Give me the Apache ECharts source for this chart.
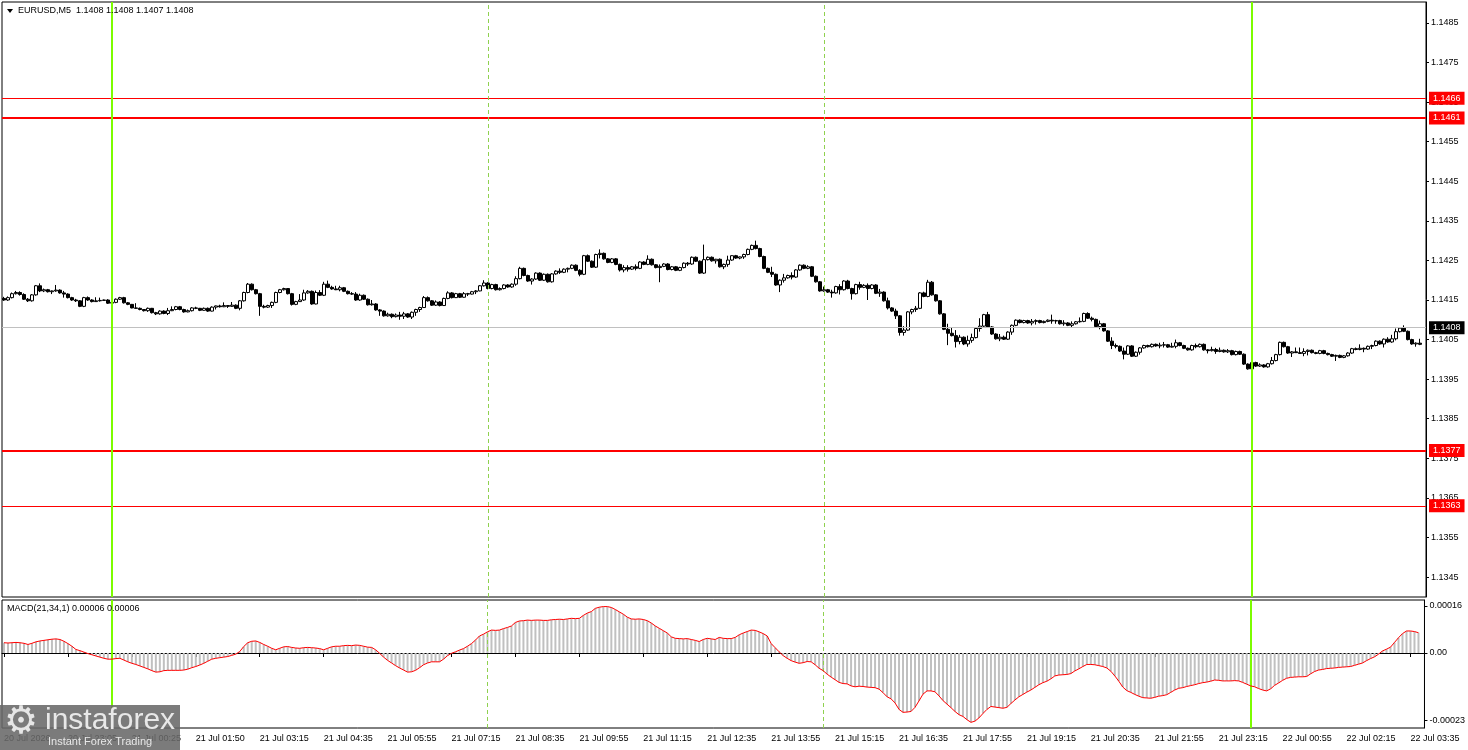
<!DOCTYPE html>
<html><head><meta charset="utf-8">
<script src="https://cdn.jsdelivr.net/npm/echarts@6/dist/echarts.min.js"></script>
<style>html,body{margin:0;padding:0;background:#fff}#c{width:1468px;height:750px}</style>
</head><body><div id="c"></div>
<script>
const chartTitle = 'EURUSD,M5  1.1408 1.1408 1.1407 1.1408';
const macdTitle = 'MACD(21,34,1) 0.00006 0.00006';
const timeLabels = ['20 Jul 2026','20 Jul 23:05','21 Jul 00:25','21 Jul 01:50','21 Jul 03:15','21 Jul 04:35','21 Jul 05:55','21 Jul 07:15','21 Jul 08:35','21 Jul 09:55','21 Jul 11:15','21 Jul 12:35','21 Jul 13:55','21 Jul 15:15','21 Jul 16:35','21 Jul 17:55','21 Jul 19:15','21 Jul 20:35','21 Jul 21:55','21 Jul 23:15','22 Jul 00:55','22 Jul 02:15','22 Jul 03:35'];
const priceTicks = [1.1345,1.1355,1.1365,1.1375,1.1385,1.1395,1.1405,1.1415,1.1425,1.1435,1.1445,1.1455,1.1465,1.1475,1.1485];
const macdTicks = [0.00016, 0, -0.00023];
const macdTickLabels = ['0.00016','0.00','-0.00023'];
const levelsThin = [1.1466, 1.1363];
const levelsThick = [1.1461, 1.1377];
const currentPrice = 1.1408;
const sessionBars = [27, 312];
const dashedBars = [121, 205];
// [open, high, low, close]
const ohlc = [
[1.14154,1.14158,1.14148,1.14150],[1.14150,1.14159,1.14148,1.14156],[1.14156,1.14169,1.14154,1.14166],[1.14166,1.14173,1.14164,1.14169],[1.14169,1.14172,1.14161,1.14164],
[1.14164,1.14167,1.14150,1.14152],[1.14152,1.14155,1.14145,1.14148],[1.14148,1.14165,1.14146,1.14163],[1.14163,1.14188,1.14161,1.14186],[1.14186,1.14192,1.14170,1.14173],
[1.14173,1.14179,1.14170,1.14176],[1.14176,1.14178,1.14169,1.14171],[1.14171,1.14174,1.14165,1.14173],[1.14173,1.14188,1.14171,1.14175],[1.14175,1.14177,1.14166,1.14168],
[1.14168,1.14173,1.14156,1.14165],[1.14165,1.14167,1.14154,1.14156],[1.14156,1.14158,1.14148,1.14150],[1.14150,1.14153,1.14145,1.14148],[1.14148,1.14150,1.14132,1.14134],
[1.14134,1.14158,1.14132,1.14156],[1.14156,1.14159,1.14148,1.14150],[1.14150,1.14152,1.14144,1.14146],[1.14146,1.14157,1.14145,1.14148],[1.14148,1.14156,1.14146,1.14149],
[1.14149,1.14151,1.14148,1.14150],[1.14150,1.14152,1.14140,1.14142],[1.14142,1.14150,1.14141,1.14144],[1.14144,1.14154,1.14142,1.14152],[1.14152,1.14158,1.14150,1.14156],
[1.14156,1.14158,1.14141,1.14143],[1.14143,1.14145,1.14137,1.14139],[1.14139,1.14140,1.14129,1.14130],[1.14130,1.14142,1.14128,1.14129],[1.14129,1.14131,1.14124,1.14126],
[1.14126,1.14127,1.14121,1.14123],[1.14123,1.14131,1.14120,1.14129],[1.14129,1.14130,1.14116,1.14118],[1.14118,1.14120,1.14112,1.14115],[1.14115,1.14124,1.14113,1.14122],
[1.14122,1.14124,1.14114,1.14116],[1.14116,1.14130,1.14112,1.14123],[1.14123,1.14134,1.14122,1.14126],[1.14126,1.14135,1.14124,1.14133],[1.14133,1.14135,1.14124,1.14126],
[1.14126,1.14128,1.14118,1.14120],[1.14120,1.14126,1.14119,1.14123],[1.14123,1.14132,1.14121,1.14130],[1.14130,1.14133,1.14127,1.14129],[1.14129,1.14130,1.14122,1.14124],
[1.14124,1.14131,1.14123,1.14129],[1.14129,1.14131,1.14120,1.14122],[1.14122,1.14134,1.14121,1.14132],[1.14132,1.14136,1.14126,1.14135],[1.14135,1.14138,1.14131,1.14133],
[1.14133,1.14144,1.14132,1.14136],[1.14136,1.14137,1.14130,1.14134],[1.14134,1.14145,1.14133,1.14137],[1.14137,1.14139,1.14127,1.14129],[1.14129,1.14150,1.14124,1.14148],
[1.14148,1.14171,1.14146,1.14169],[1.14169,1.14193,1.14167,1.14190],[1.14190,1.14192,1.14174,1.14176],[1.14176,1.14178,1.14164,1.14166],[1.14166,1.14168,1.14110,1.14134],
[1.14134,1.14138,1.14129,1.14132],[1.14132,1.14138,1.14130,1.14136],[1.14136,1.14146,1.14130,1.14144],[1.14144,1.14171,1.14142,1.14169],[1.14169,1.14178,1.14167,1.14176],
[1.14176,1.14181,1.14174,1.14179],[1.14179,1.14180,1.14164,1.14166],[1.14166,1.14168,1.14136,1.14139],[1.14139,1.14148,1.14137,1.14146],[1.14146,1.14165,1.14145,1.14150],
[1.14150,1.14176,1.14148,1.14168],[1.14168,1.14175,1.14166,1.14172],[1.14172,1.14174,1.14138,1.14140],[1.14140,1.14174,1.14139,1.14169],[1.14169,1.14175,1.14160,1.14162],
[1.14162,1.14196,1.14160,1.14190],[1.14190,1.14199,1.14180,1.14182],[1.14182,1.14186,1.14176,1.14178],[1.14178,1.14186,1.14175,1.14176],[1.14176,1.14186,1.14172,1.14181],
[1.14181,1.14183,1.14170,1.14172],[1.14172,1.14174,1.14164,1.14166],[1.14166,1.14170,1.14163,1.14165],[1.14165,1.14170,1.14148,1.14150],[1.14150,1.14166,1.14148,1.14162],
[1.14162,1.14164,1.14150,1.14152],[1.14152,1.14154,1.14136,1.14138],[1.14138,1.14150,1.14136,1.14140],[1.14140,1.14142,1.14123,1.14125],[1.14125,1.14127,1.14110,1.14122],
[1.14122,1.14124,1.14108,1.14110],[1.14110,1.14118,1.14108,1.14114],[1.14114,1.14116,1.14104,1.14108],[1.14108,1.14116,1.14106,1.14112],[1.14112,1.14120,1.14100,1.14109],
[1.14109,1.14120,1.14102,1.14115],[1.14115,1.14117,1.14105,1.14107],[1.14107,1.14121,1.14102,1.14119],[1.14119,1.14128,1.14110,1.14126],[1.14126,1.14133,1.14120,1.14131],
[1.14131,1.14160,1.14130,1.14156],[1.14156,1.14159,1.14146,1.14148],[1.14148,1.14150,1.14135,1.14137],[1.14137,1.14149,1.14135,1.14145],[1.14145,1.14147,1.14134,1.14136],
[1.14136,1.14156,1.14135,1.14154],[1.14154,1.14172,1.14152,1.14168],[1.14168,1.14170,1.14154,1.14156],[1.14156,1.14168,1.14155,1.14166],[1.14166,1.14168,1.14155,1.14157],
[1.14157,1.14170,1.14156,1.14166],[1.14166,1.14168,1.14160,1.14165],[1.14165,1.14173,1.14164,1.14171],[1.14171,1.14175,1.14165,1.14173],[1.14173,1.14188,1.14172,1.14186],
[1.14186,1.14200,1.14184,1.14193],[1.14193,1.14195,1.14177,1.14179],[1.14179,1.14191,1.14177,1.14189],[1.14189,1.14191,1.14174,1.14176],[1.14176,1.14182,1.14174,1.14179],
[1.14179,1.14190,1.14177,1.14188],[1.14188,1.14190,1.14181,1.14183],[1.14183,1.14192,1.14181,1.14190],[1.14190,1.14210,1.14186,1.14204],[1.14204,1.14234,1.14202,1.14230],
[1.14230,1.14232,1.14210,1.14212],[1.14212,1.14214,1.14196,1.14198],[1.14198,1.14205,1.14189,1.14203],[1.14203,1.14220,1.14201,1.14218],[1.14218,1.14220,1.14198,1.14200],
[1.14200,1.14217,1.14198,1.14215],[1.14215,1.14217,1.14194,1.14196],[1.14196,1.14218,1.14194,1.14216],[1.14216,1.14225,1.14214,1.14223],[1.14223,1.14230,1.14216,1.14220],
[1.14220,1.14230,1.14218,1.14228],[1.14228,1.14232,1.14220,1.14230],[1.14230,1.14240,1.14228,1.14238],[1.14238,1.14240,1.14223,1.14225],[1.14225,1.14228,1.14210,1.14215],
[1.14215,1.14264,1.14213,1.14262],[1.14262,1.14265,1.14246,1.14248],[1.14248,1.14250,1.14231,1.14233],[1.14233,1.14267,1.14231,1.14265],[1.14265,1.14278,1.14255,1.14268],
[1.14268,1.14270,1.14252,1.14254],[1.14254,1.14256,1.14243,1.14245],[1.14245,1.14256,1.14243,1.14254],[1.14254,1.14256,1.14238,1.14240],[1.14240,1.14242,1.14222,1.14226],
[1.14226,1.14238,1.14220,1.14232],[1.14232,1.14238,1.14222,1.14228],[1.14228,1.14236,1.14226,1.14234],[1.14234,1.14240,1.14225,1.14230],[1.14230,1.14248,1.14228,1.14246],
[1.14246,1.14248,1.14238,1.14240],[1.14240,1.14263,1.14238,1.14253],[1.14253,1.14255,1.14237,1.14239],[1.14239,1.14241,1.14230,1.14232],[1.14232,1.14240,1.14195,1.14235],
[1.14235,1.14243,1.14233,1.14241],[1.14241,1.14243,1.14225,1.14227],[1.14227,1.14236,1.14225,1.14234],[1.14234,1.14236,1.14223,1.14225],[1.14225,1.14234,1.14223,1.14232],
[1.14232,1.14245,1.14230,1.14243],[1.14243,1.14246,1.14236,1.14241],[1.14241,1.14260,1.14239,1.14258],[1.14258,1.14260,1.14246,1.14248],[1.14248,1.14250,1.14216,1.14218],
[1.14218,1.14290,1.14216,1.14252],[1.14252,1.14260,1.14250,1.14258],[1.14258,1.14260,1.14247,1.14249],[1.14249,1.14254,1.14242,1.14253],[1.14253,1.14255,1.14232,1.14234],
[1.14234,1.14242,1.14228,1.14240],[1.14240,1.14262,1.14234,1.14251],[1.14251,1.14263,1.14249,1.14262],[1.14262,1.14264,1.14254,1.14256],[1.14256,1.14260,1.14253,1.14259],
[1.14259,1.14267,1.14254,1.14265],[1.14265,1.14280,1.14263,1.14278],[1.14278,1.14290,1.14276,1.14288],[1.14288,1.14300,1.14278,1.14280],[1.14280,1.14282,1.14258,1.14260],
[1.14260,1.14262,1.14228,1.14230],[1.14230,1.14232,1.14218,1.14220],[1.14220,1.14234,1.14208,1.14215],[1.14215,1.14217,1.14186,1.14188],[1.14188,1.14202,1.14170,1.14200],
[1.14200,1.14216,1.14194,1.14206],[1.14206,1.14214,1.14204,1.14212],[1.14212,1.14220,1.14202,1.14208],[1.14208,1.14228,1.14206,1.14226],[1.14226,1.14240,1.14224,1.14238],
[1.14238,1.14240,1.14228,1.14230],[1.14230,1.14238,1.14228,1.14234],[1.14234,1.14236,1.14208,1.14210],[1.14210,1.14212,1.14194,1.14196],[1.14196,1.14198,1.14171,1.14173],
[1.14173,1.14184,1.14171,1.14176],[1.14176,1.14178,1.14168,1.14170],[1.14170,1.14176,1.14156,1.14168],[1.14168,1.14186,1.14166,1.14184],[1.14184,1.14190,1.14164,1.14176],
[1.14176,1.14200,1.14174,1.14198],[1.14198,1.14201,1.14177,1.14179],[1.14179,1.14181,1.14151,1.14166],[1.14166,1.14191,1.14164,1.14189],[1.14189,1.14196,1.14176,1.14182],
[1.14182,1.14190,1.14180,1.14187],[1.14187,1.14192,1.14150,1.14179],[1.14179,1.14190,1.14177,1.14188],[1.14188,1.14190,1.14165,1.14167],[1.14167,1.14178,1.14158,1.14170],
[1.14170,1.14172,1.14146,1.14148],[1.14148,1.14156,1.14126,1.14130],[1.14130,1.14132,1.14120,1.14122],[1.14122,1.14128,1.14102,1.14110],[1.14110,1.14112,1.14060,1.14068],
[1.14068,1.14084,1.14060,1.14074],[1.14074,1.14122,1.14072,1.14120],[1.14120,1.14128,1.14114,1.14126],[1.14126,1.14135,1.14120,1.14129],[1.14129,1.14170,1.14127,1.14168],
[1.14168,1.14171,1.14157,1.14159],[1.14159,1.14201,1.14157,1.14195],[1.14195,1.14198,1.14161,1.14163],[1.14163,1.14165,1.14146,1.14148],[1.14148,1.14150,1.14113,1.14115],
[1.14115,1.14117,1.14074,1.14076],[1.14076,1.14090,1.14036,1.14066],[1.14066,1.14080,1.14058,1.14060],[1.14060,1.14074,1.14030,1.14045],[1.14045,1.14062,1.14038,1.14056],
[1.14056,1.14058,1.14036,1.14039],[1.14039,1.14060,1.14032,1.14048],[1.14048,1.14065,1.14042,1.14055],[1.14055,1.14080,1.14053,1.14078],[1.14078,1.14104,1.14070,1.14084],
[1.14084,1.14115,1.14082,1.14113],[1.14113,1.14120,1.14080,1.14082],[1.14082,1.14084,1.14062,1.14064],[1.14064,1.14066,1.14050,1.14052],[1.14052,1.14064,1.14046,1.14056],
[1.14056,1.14060,1.14049,1.14051],[1.14051,1.14071,1.14049,1.14069],[1.14069,1.14088,1.14062,1.14086],[1.14086,1.14101,1.14084,1.14099],[1.14099,1.14101,1.14091,1.14093],
[1.14093,1.14100,1.14091,1.14098],[1.14098,1.14100,1.14090,1.14092],[1.14092,1.14102,1.14086,1.14096],[1.14096,1.14101,1.14088,1.14098],[1.14098,1.14100,1.14091,1.14093],
[1.14093,1.14098,1.14091,1.14096],[1.14096,1.14101,1.14094,1.14099],[1.14099,1.14113,1.14090,1.14097],[1.14097,1.14100,1.14090,1.14098],[1.14098,1.14100,1.14088,1.14090],
[1.14090,1.14099,1.14085,1.14092],[1.14092,1.14094,1.14084,1.14086],[1.14086,1.14096,1.14080,1.14090],[1.14090,1.14097,1.14088,1.14095],[1.14095,1.14106,1.14093,1.14096],
[1.14096,1.14118,1.14094,1.14116],[1.14116,1.14119,1.14102,1.14104],[1.14104,1.14108,1.14096,1.14101],[1.14101,1.14103,1.14081,1.14083],[1.14083,1.14098,1.14076,1.14090],
[1.14090,1.14092,1.14070,1.14072],[1.14072,1.14074,1.14044,1.14046],[1.14046,1.14056,1.14026,1.14035],[1.14035,1.14040,1.14028,1.14033],[1.14033,1.14035,1.14019,1.14021],
[1.14021,1.14030,1.14000,1.14013],[1.14013,1.14036,1.14011,1.14034],[1.14034,1.14036,1.14006,1.14008],[1.14008,1.14020,1.14006,1.14018],[1.14018,1.14031,1.14012,1.14029],
[1.14029,1.14037,1.14027,1.14035],[1.14035,1.14037,1.14030,1.14032],[1.14032,1.14040,1.14030,1.14038],[1.14038,1.14040,1.14032,1.14034],[1.14034,1.14042,1.14028,1.14036],
[1.14036,1.14044,1.14030,1.14037],[1.14037,1.14039,1.14029,1.14031],[1.14031,1.14042,1.14030,1.14033],[1.14033,1.14050,1.14028,1.14042],[1.14042,1.14044,1.14033,1.14035],
[1.14035,1.14037,1.14026,1.14028],[1.14028,1.14030,1.14022,1.14024],[1.14024,1.14037,1.14022,1.14035],[1.14035,1.14040,1.14028,1.14032],[1.14032,1.14040,1.14030,1.14038],
[1.14038,1.14040,1.14022,1.14024],[1.14024,1.14026,1.14015,1.14022],[1.14022,1.14032,1.14020,1.14025],[1.14025,1.14029,1.14014,1.14020],[1.14020,1.14030,1.14018,1.14023],
[1.14023,1.14025,1.14017,1.14019],[1.14019,1.14026,1.14016,1.14022],[1.14022,1.14024,1.14010,1.14012],[1.14012,1.14022,1.14010,1.14020],[1.14020,1.14022,1.14011,1.14013],
[1.14013,1.14015,1.13986,1.13988],[1.13988,1.13990,1.13974,1.13976],[1.13976,1.13994,1.13967,1.13992],[1.13992,1.13994,1.13981,1.13983],[1.13983,1.13990,1.13981,1.13986],
[1.13986,1.13988,1.13979,1.13981],[1.13981,1.13991,1.13979,1.13989],[1.13989,1.14006,1.13987,1.13997],[1.13997,1.14014,1.13995,1.14012],[1.14012,1.14045,1.14010,1.14043],
[1.14043,1.14045,1.14030,1.14032],[1.14032,1.14034,1.14014,1.14016],[1.14016,1.14021,1.14006,1.14019],[1.14019,1.14030,1.14016,1.14017],[1.14017,1.14030,1.14014,1.14015],
[1.14015,1.14028,1.14008,1.14020],[1.14020,1.14025,1.14010,1.14023],[1.14023,1.14025,1.14015,1.14017],[1.14017,1.14019,1.14013,1.14015],[1.14015,1.14024,1.14013,1.14022],
[1.14022,1.14024,1.14013,1.14015],[1.14015,1.14017,1.14010,1.14012],[1.14012,1.14014,1.14006,1.14008],[1.14008,1.14012,1.13996,1.14010],[1.14010,1.14012,1.14003,1.14005],
[1.14005,1.14011,1.14003,1.14009],[1.14009,1.14018,1.14007,1.14016],[1.14016,1.14029,1.14014,1.14027],[1.14027,1.14030,1.14023,1.14025],[1.14025,1.14038,1.14023,1.14028],
[1.14028,1.14030,1.14018,1.14026],[1.14026,1.14035,1.14024,1.14033],[1.14033,1.14037,1.14026,1.14035],[1.14035,1.14048,1.14033,1.14046],[1.14046,1.14048,1.14037,1.14039],
[1.14039,1.14053,1.14030,1.14051],[1.14051,1.14056,1.14042,1.14044],[1.14044,1.14062,1.14042,1.14052],[1.14052,1.14078,1.14048,1.14070],[1.14070,1.14081,1.14068,1.14079],
[1.14079,1.14086,1.14069,1.14071],[1.14071,1.14073,1.14048,1.14050],[1.14050,1.14052,1.14037,1.14039],[1.14039,1.14043,1.14032,1.14041],[1.14041,1.14052,1.14036,1.14038]
];
const macd = [
3.5e-5,3.4e-5,3.5e-5,3.6e-5,3.5e-5,3.3e-5,2.9e-5,3.3e-5,3.8e-5,4.1e-5,
4.3e-5,4.5e-5,4.7e-5,4.8e-5,4.6e-5,4.0e-5,3.2e-5,2.3e-5,1.2e-5,0.8e-5,
0.3e-5,-0.2e-5,-0.6e-5,-1.0e-5,-1.4e-5,-1.8e-5,-2.1e-5,-2.1e-5,-1.9e-5,-1.8e-5,
-2.4e-5,-3.0e-5,-3.5e-5,-3.9e-5,-4.4e-5,-4.9e-5,-5.4e-5,-6.0e-5,-6.5e-5,-6.4e-5,
-6.0e-5,-5.9e-5,-5.9e-5,-5.9e-5,-5.9e-5,-5.8e-5,-5.5e-5,-5.0e-5,-4.6e-5,-4.1e-5,
-3.5e-5,-2.8e-5,-2.1e-5,-1.8e-5,-1.6e-5,-1.4e-5,-1.2e-5,-0.8e-5,-0.4e-5,0.5e-5,
2.2e-5,3.5e-5,4.0e-5,4.1e-5,3.6e-5,2.9e-5,2.3e-5,1.6e-5,1.1e-5,1.6e-5,
2.1e-5,2.2e-5,1.9e-5,1.7e-5,1.6e-5,1.8e-5,1.9e-5,1.8e-5,1.7e-5,1.5e-5,
1.1e-5,1.6e-5,2.1e-5,2.3e-5,2.3e-5,2.5e-5,2.6e-5,2.5e-5,2.7e-5,2.6e-5,
2.3e-5,2.0e-5,1.9e-5,1.1e-5,-0.1e-5,-1.4e-5,-2.5e-5,-3.4e-5,-4.3e-5,-5.1e-5,
-5.8e-5,-6.5e-5,-6.4e-5,-5.9e-5,-5.0e-5,-4.0e-5,-3.4e-5,-3.0e-5,-3.0e-5,-3.0e-5,
-2.1e-5,-0.9e-5,-0.1e-5,0.4e-5,1.0e-5,1.5e-5,2.3e-5,3.2e-5,4.4e-5,5.8e-5,
6.4e-5,7.2e-5,7.8e-5,7.7e-5,7.8e-5,8.3e-5,8.7e-5,9.2e-5,10.4e-5,10.9e-5,
11.0e-5,11.2e-5,11.1e-5,11.2e-5,11.2e-5,11.1e-5,11.1e-5,11.3e-5,11.4e-5,11.5e-5,
11.4e-5,11.6e-5,11.8e-5,11.7e-5,11.8e-5,12.8e-5,13.6e-5,14.1e-5,15.2e-5,15.6e-5,
15.8e-5,15.8e-5,15.5e-5,14.8e-5,14.0e-5,13.2e-5,12.2e-5,11.6e-5,11.5e-5,11.6e-5,
11.4e-5,11.0e-5,10.2e-5,9.2e-5,8.4e-5,7.6e-5,6.8e-5,5.5e-5,5.0e-5,4.9e-5,
4.8e-5,4.9e-5,4.6e-5,4.3e-5,3.9e-5,4.6e-5,5.0e-5,4.8e-5,4.6e-5,5.3e-5,
5.0e-5,4.9e-5,4.9e-5,5.3e-5,6.2e-5,6.8e-5,7.3e-5,7.8e-5,7.7e-5,7.2e-5,
6.6e-5,5.8e-5,3.2e-5,1.8e-5,0.4e-5,-0.9e-5,-1.8e-5,-2.6e-5,-3.1e-5,-3.5e-5,
-3.3e-5,-2.9e-5,-3.0e-5,-4.0e-5,-5.2e-5,-6.0e-5,-7.2e-5,-8.2e-5,-9.1e-5,-10.0e-5,
-10.4e-5,-10.5e-5,-11.2e-5,-11.5e-5,-11.3e-5,-11.4e-5,-11.6e-5,-11.7e-5,-11.8e-5,-12.3e-5,
-13.5e-5,-14.9e-5,-15.6e-5,-17.0e-5,-19.2e-5,-20.2e-5,-20.1e-5,-19.9e-5,-18.5e-5,-16.3e-5,
-14.0e-5,-12.9e-5,-12.9e-5,-13.2e-5,-14.6e-5,-16.2e-5,-17.4e-5,-18.6e-5,-19.9e-5,-21.0e-5,
-21.6e-5,-22.7e-5,-23.6e-5,-23.2e-5,-22.1e-5,-20.6e-5,-19.2e-5,-18.2e-5,-18.4e-5,-18.6e-5,
-18.8e-5,-18.5e-5,-17.2e-5,-16.0e-5,-14.9e-5,-14.1e-5,-13.3e-5,-12.6e-5,-11.7e-5,-10.8e-5,
-10.1e-5,-9.6e-5,-8.8e-5,-7.8e-5,-7.5e-5,-7.4e-5,-7.3e-5,-7.0e-5,-6.1e-5,-5.4e-5,
-4.6e-5,-3.9e-5,-3.9e-5,-4.0e-5,-4.3e-5,-4.6e-5,-5.1e-5,-6.2e-5,-7.8e-5,-9.6e-5,
-11.6e-5,-12.8e-5,-13.4e-5,-14.1e-5,-14.7e-5,-15.2e-5,-15.3e-5,-15.4e-5,-15.1e-5,-14.7e-5,
-14.5e-5,-14.2e-5,-13.4e-5,-12.6e-5,-12.0e-5,-11.8e-5,-11.4e-5,-11.1e-5,-10.8e-5,-10.4e-5,
-10.1e-5,-9.9e-5,-9.6e-5,-9.2e-5,-9.3e-5,-9.5e-5,-9.5e-5,-9.5e-5,-9.4e-5,-9.5e-5,
-10.0e-5,-10.6e-5,-11.2e-5,-11.5e-5,-12.1e-5,-12.6e-5,-12.9e-5,-12.2e-5,-11.0e-5,-10.2e-5,
-9.3e-5,-8.6e-5,-8.3e-5,-8.2e-5,-8.1e-5,-8.1e-5,-8.0e-5,-7.1e-5,-6.3e-5,-5.8e-5,
-5.6e-5,-5.3e-5,-5.2e-5,-5.1e-5,-4.9e-5,-4.8e-5,-4.7e-5,-4.6e-5,-4.2e-5,-3.8e-5,
-3.4e-5,-2.6e-5,-1.9e-5,-1.3e-5,-0.4e-5,0.7e-5,1.3e-5,2.0e-5,3.6e-5,5.2e-5,
6.6e-5,7.5e-5,7.5e-5,7.3e-5,6.9e-5
];

const FONT = 'Liberation Sans';
const nSlots = 356;
const labelStep = 16;
const cats = [];
for (let i = 0; i < nSlots; i++) {
  cats.push(i % labelStep === 0 && timeLabels[i / labelStep] ? timeLabels[i / labelStep] : '');
}
const isLabelSlot = (i) => i % labelStep === 0 && i / labelStep < timeLabels.length;

const boxLabel = (txt, bg) => ({
  show: true, position: 'end', distance: 3, formatter: txt,
  backgroundColor: bg, color: '#fff', fontSize: 9, fontFamily: FONT,
  padding: [2, 4, 1, 4], lineHeight: 10
});

const vMarks = [];
sessionBars.forEach(b => vMarks.push({xAxis: b, lineStyle: {color: '#7CFC00', width: 2, type: 'solid'}, label: {show: false}}));
dashedBars.forEach(b => vMarks.push({xAxis: b, lineStyle: {color: '#8FD14F', width: 1, type: [4, 3]}, label: {show: false}}));

const hMarks = [];
hMarks.push({yAxis: currentPrice, lineStyle: {color: '#C0C0C0', width: 1, type: 'solid'}, label: boxLabel(currentPrice.toFixed(4), '#000')});
levelsThin.forEach(v => hMarks.push({yAxis: v, lineStyle: {color: '#FF0000', width: 1, type: 'solid'}, label: boxLabel(v.toFixed(4), '#FF0000')}));
levelsThick.forEach(v => hMarks.push({yAxis: v, lineStyle: {color: '#FF0000', width: 2, type: 'solid'}, label: boxLabel(v.toFixed(4), '#FF0000')}));

const chart = echarts.init(document.getElementById('c'));
chart.setOption({
  animation: false,
  backgroundColor: '#fff',
  textStyle: {fontFamily: FONT},
  title: [
    {text: chartTitle, left: 18, top: 6, padding: 0, textStyle: {fontSize: 9, fontWeight: 'normal', color: '#000', fontFamily: FONT}},
    {text: macdTitle, left: 7, top: 604, padding: 0, textStyle: {fontSize: 9, fontWeight: 'normal', color: '#000', fontFamily: FONT}}
  ],
  grid: [
    {left: 2, top: 2, width: 1424, height: 595, show: true, borderColor: '#000', borderWidth: 1, backgroundColor: '#fff'},
    {left: 2, top: 600, width: 1424, height: 128, show: true, borderColor: '#000', borderWidth: 1, backgroundColor: '#fff'}
  ],
  xAxis: [
    {type: 'category', gridIndex: 0, data: cats, boundaryGap: true, axisLine: {show: false}, axisTick: {show: false}, axisLabel: {show: false}, splitLine: {show: false}},
    {type: 'category', gridIndex: 1, data: cats, boundaryGap: true,
     axisLine: {show: true, lineStyle: {color: '#000', width: 1}},
     axisTick: {show: true, alignWithLabel: true, interval: (i) => isLabelSlot(i), length: 4, lineStyle: {color: '#000'}},
     axisLabel: {show: true, interval: (i) => isLabelSlot(i), align: 'left', margin: 6, fontSize: 9, color: '#000', fontFamily: FONT},
     splitLine: {show: false}}
  ],
  yAxis: [
    {type: 'value', gridIndex: 0, position: 'right', min: 1.133995, max: 1.149031,
     axisLine: {show: true, lineStyle: {color: '#000'}},
     axisTick: {show: true, customValues: priceTicks, length: 3, lineStyle: {color: '#000'}},
     axisLabel: {show: true, customValues: priceTicks, formatter: (v) => v.toFixed(4), fontSize: 9, color: '#000', margin: 5, fontFamily: FONT},
     splitLine: {show: false}},
    {type: 'value', gridIndex: 1, position: 'right', min: -0.00025532, max: 0.00018043,
     axisLine: {show: true, lineStyle: {color: '#000'}},
     axisTick: {show: true, customValues: macdTicks, length: 3, lineStyle: {color: '#000'}},
     axisLabel: {show: true, customValues: macdTicks, fontSize: 9, color: '#000', margin: 5, fontFamily: FONT,
       formatter: (v) => { const k = macdTicks.findIndex(t => Math.abs(t - v) < 1e-9); return k >= 0 ? macdTickLabels[k] : ''; }},
     splitLine: {show: false}}
  ],
  series: [
    {type: 'line', name: 'levels', xAxisIndex: 0, yAxisIndex: 0, data: [], z: 1,
     markLine: {silent: true, precision: 6, symbol: ['none', 'none'], animation: false, data: hMarks}},
    {type: 'candlestick', xAxisIndex: 0, yAxisIndex: 0, barWidth: 3, z: 3,
     data: ohlc.map(r => [r[0], r[3], r[2], r[1]]),
     itemStyle: {color: '#fff', color0: '#000', borderColor: '#000', borderColor0: '#000', borderWidth: 1}},
    {type: 'line', name: 'vmarks', xAxisIndex: 0, yAxisIndex: 0, data: [], z: 6,
     markLine: {silent: true, precision: 6, symbol: ['none', 'none'], animation: false, data: vMarks}},
    {type: 'bar', xAxisIndex: 1, yAxisIndex: 1, barWidth: 2, data: macd,
     itemStyle: {color: '#C0C0C0'}},
    {type: 'line', xAxisIndex: 1, yAxisIndex: 1, data: macd, symbol: 'none', z: 5,
     lineStyle: {color: '#FF0000', width: 1}},
    {type: 'line', name: 'vmarks2', xAxisIndex: 1, yAxisIndex: 1, data: [], z: 6,
     markLine: {silent: true, precision: 6, symbol: ['none', 'none'], animation: false, data: vMarks}}
  ],
  graphic: [
    {type: 'polygon', shape: {points: [[7, 9], [13, 9], [10, 13]]}, style: {fill: '#000'}},
    {type: 'rect', shape: {x: 0, y: 705, width: 180, height: 45}, style: {fill: 'rgba(105,105,105,0.88)'}, z: 100},
    {type: 'text', x: 4, y: 704, z: 101, style: {text: '\u2699', font: '38px "DejaVu Sans"', fill: '#e6e6e6'}},
    {type: 'text', x: 45, y: 706, z: 101, style: {text: 'instaforex', font: '30px "Liberation Sans"', fill: '#e8e8e8'}},
    {type: 'text', x: 48, y: 736, z: 101, style: {text: 'Instant Forex Trading', font: '11px "Liberation Sans"', fill: '#e8e8e8'}}
  ]
});
</script>
</body></html>
